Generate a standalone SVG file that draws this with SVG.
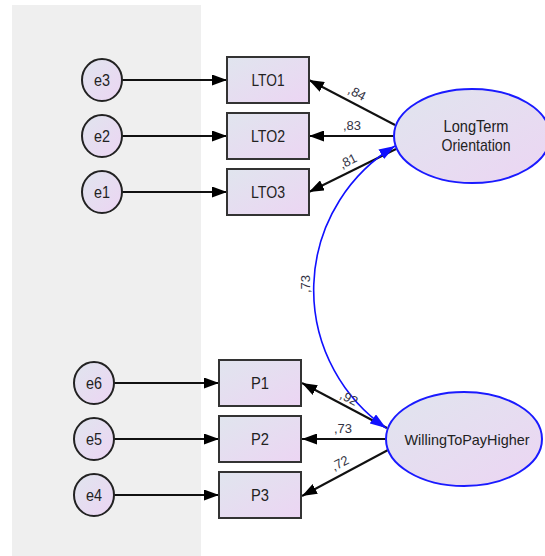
<svg xmlns="http://www.w3.org/2000/svg" width="545" height="556" viewBox="0 0 545 556">
<defs>
<linearGradient id="g" x1="0" y1="0" x2="1" y2="1">
<stop offset="0" stop-color="#e0e5ee"/>
<stop offset="1" stop-color="#ecd5f3"/>
</linearGradient>
<marker id="ah" viewBox="0 0 15 11" refX="15" refY="5.5" markerWidth="15" markerHeight="11" markerUnits="userSpaceOnUse" orient="auto-start-reverse">
<path d="M0,0 L15,5.5 L0,11 Z" fill="#000"/>
</marker>
<marker id="bh" viewBox="0 0 16 11" refX="16" refY="5.5" markerWidth="16" markerHeight="11" markerUnits="userSpaceOnUse" orient="auto-start-reverse">
<path d="M0,0 L16,5.5 L0,11 Z" fill="#1010ff"/>
</marker>
</defs>
<style>
.box{fill:url(#g);stroke:#333;stroke-width:2}
.err{fill:url(#g);stroke:#222;stroke-width:2}
.lat{fill:url(#g);stroke:#1a1aff;stroke-width:2}
.t{font-family:"Liberation Sans",Arial,sans-serif;font-size:17px;fill:#222;text-anchor:middle}
.n{font-family:"Liberation Sans",Arial,sans-serif;font-size:13px;fill:#334;text-anchor:middle}
.c{stroke:#111;stroke-width:2;fill:none;marker-end:url(#ah)}
</style>
<rect x="12" y="5" width="189" height="551" fill="#efefef"/>
<g id="connectors">
<line class="c" x1="122" y1="80" x2="227" y2="80"/>
<line class="c" x1="122" y1="136" x2="227" y2="136"/>
<line class="c" x1="122" y1="192" x2="227" y2="192"/>
<line class="c" x1="114" y1="383" x2="219" y2="383"/>
<line class="c" x1="114" y1="439" x2="219" y2="439"/>
<line class="c" x1="114" y1="495" x2="219" y2="495"/>
<line class="c" x1="395" y1="125" x2="309" y2="80"/>
<line class="c" x1="394" y1="136" x2="309" y2="136"/>
<line class="c" x1="396" y1="149" x2="309" y2="192"/>
<line class="c" x1="387" y1="428" x2="302" y2="383"/>
<line class="c" x1="386" y1="439" x2="302" y2="439"/>
<line class="c" x1="388" y1="450" x2="302" y2="496"/>
<path d="M395,146 A168,168 0 0 0 386,428" fill="none" stroke="#1010ff" stroke-width="1.6" marker-start="url(#bh)" marker-end="url(#bh)"/>
<text class="n" transform="translate(355,97) rotate(28)">,84</text>
<text class="n" x="352" y="130">,83</text>
<text class="n" transform="translate(350,165) rotate(-27)">,81</text>
<text class="n" transform="translate(347,402) rotate(28)">,92</text>
<text class="n" x="343" y="433">,73</text>
<text class="n" transform="translate(342,467) rotate(-27)">,72</text>
<text class="n" transform="translate(310,284) rotate(-90)">,73</text>
</g>
<g id="e3"><ellipse class="err" cx="102" cy="80" rx="20" ry="21"/><text class="t" x="102" y="86" textLength="16" lengthAdjust="spacingAndGlyphs">e3</text></g>
<g id="e2"><ellipse class="err" cx="102" cy="136" rx="20" ry="21"/><text class="t" x="102" y="142" textLength="16" lengthAdjust="spacingAndGlyphs">e2</text></g>
<g id="e1"><ellipse class="err" cx="102" cy="192" rx="20" ry="21"/><text class="t" x="102" y="198" textLength="16" lengthAdjust="spacingAndGlyphs">e1</text></g>
<g id="e6"><ellipse class="err" cx="94" cy="383" rx="20" ry="21"/><text class="t" x="94" y="389" textLength="16" lengthAdjust="spacingAndGlyphs">e6</text></g>
<g id="e5"><ellipse class="err" cx="94" cy="439" rx="20" ry="21"/><text class="t" x="94" y="445" textLength="16" lengthAdjust="spacingAndGlyphs">e5</text></g>
<g id="e4"><ellipse class="err" cx="94" cy="495" rx="20" ry="21"/><text class="t" x="94" y="501" textLength="16" lengthAdjust="spacingAndGlyphs">e4</text></g>
<g id="LTO1"><rect class="box" x="227" y="57" width="82" height="46"/><text class="t" x="268" y="86" textLength="33" lengthAdjust="spacingAndGlyphs">LTO1</text></g>
<g id="LTO2"><rect class="box" x="227" y="113" width="82" height="46"/><text class="t" x="268" y="142" textLength="34" lengthAdjust="spacingAndGlyphs">LTO2</text></g>
<g id="LTO3"><rect class="box" x="227" y="169" width="82" height="46"/><text class="t" x="268" y="198" textLength="34" lengthAdjust="spacingAndGlyphs">LTO3</text></g>
<g id="P1"><rect class="box" x="219" y="360" width="82" height="46"/><text class="t" x="260" y="389" textLength="18" lengthAdjust="spacingAndGlyphs">P1</text></g>
<g id="P2"><rect class="box" x="219" y="416" width="82" height="46"/><text class="t" x="260" y="445" textLength="18" lengthAdjust="spacingAndGlyphs">P2</text></g>
<g id="P3"><rect class="box" x="219" y="472" width="82" height="46"/><text class="t" x="260" y="501" textLength="18" lengthAdjust="spacingAndGlyphs">P3</text></g>
<g id="LongTerm"><ellipse class="lat" cx="472" cy="136" rx="78" ry="47"/><text class="t" x="476" y="132" textLength="65" lengthAdjust="spacingAndGlyphs">LongTerm</text><text class="t" x="476" y="151" textLength="69" lengthAdjust="spacingAndGlyphs">Orientation</text></g>
<g id="WillingToPayHigher"><ellipse class="lat" cx="464" cy="439" rx="78" ry="47"/><text class="t" x="467" y="445" style="font-size:15px" textLength="125" lengthAdjust="spacingAndGlyphs">WillingToPayHigher</text></g>
</svg>
